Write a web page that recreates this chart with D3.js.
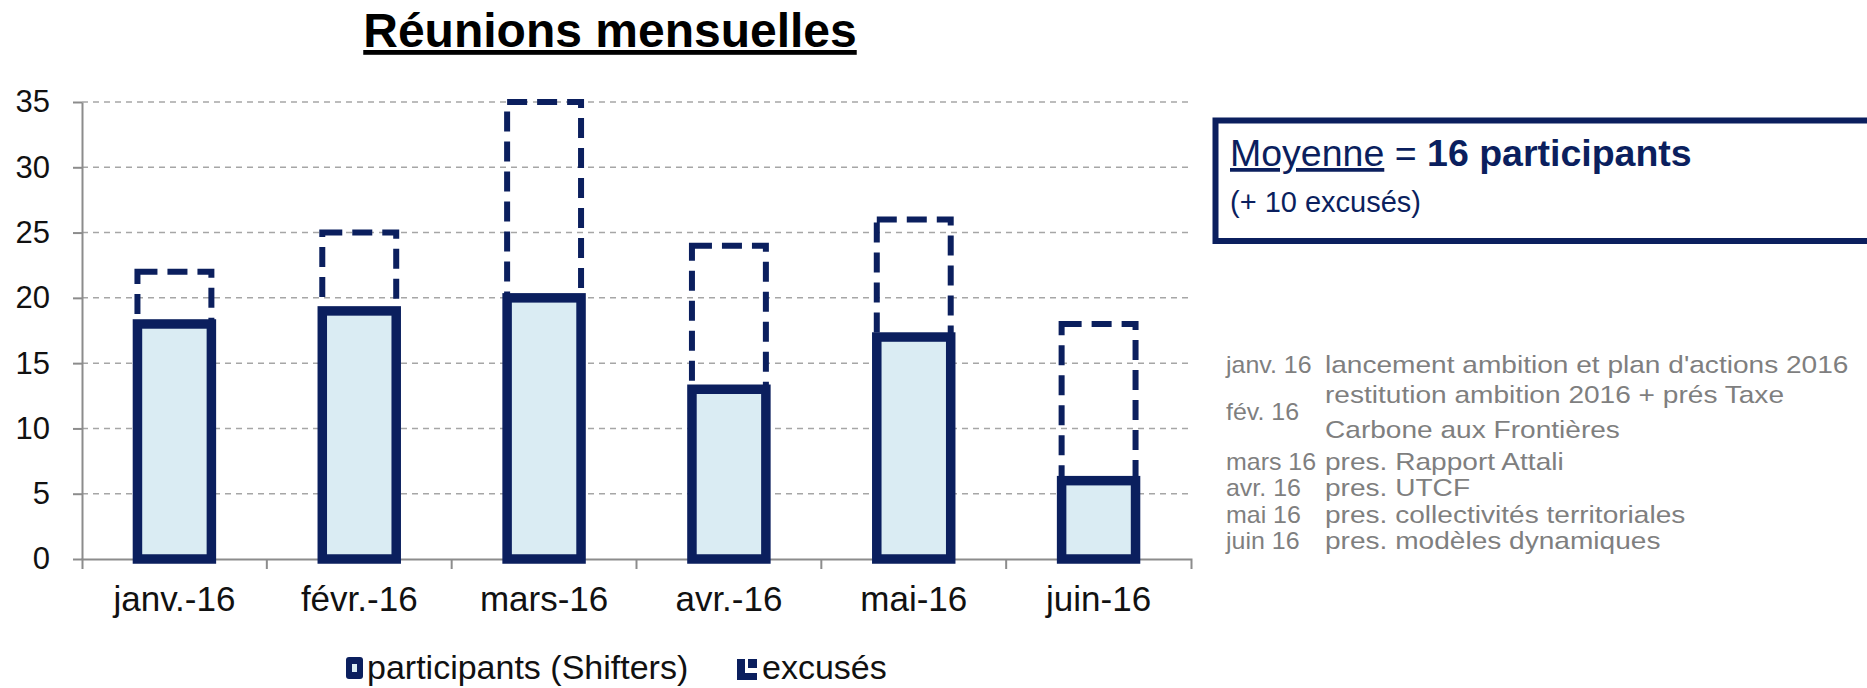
<!DOCTYPE html>
<html>
<head>
<meta charset="utf-8">
<script src="https://cdn.jsdelivr.net/npm/d3@7"></script>
<style>
  body { margin: 0; background: #fff; }
  text { font-family: 'Liberation Sans', Arial, sans-serif; }
</style>
</head>
<body>
<div id="graf"></div>
<script>
// I. Datos

mois = ['janv.-16', 'févr.-16', 'mars-16', 'avr.-16', 'mai-16', 'juin-16']
participants = [18, 19, 20, 13, 17, 6]
excuses = [4, 6, 15, 11, 9, 12]
yTicks = [0, 5, 10, 15, 20, 25, 30, 35]

notesMois = ['janv. 16', 'fév. 16', 'mars 16', 'avr. 16', 'mai 16', 'juin 16']
notesTexte = [
    ["lancement ambition et plan d'actions 2016"],
    ['restitution ambition 2016 + prés Taxe', 'Carbone aux Frontières'],
    ['pres. Rapport Attali'],
    ['pres. UTCF'],
    ['pres. collectivités territoriales'],
    ['pres. modèles dynamiques']
]

// II. Configuracion

navy = '#0b1f5e'
ancho_total = 1867
alto_total = 688

svg = d3.select('#graf').append('svg')
        .attr('width', ancho_total)
        .attr('height', alto_total)
        .style('background', '#fff')

x = d3.scaleBand()
        .domain(mois)
        .range([82, 1191])
        .paddingInner(0.6)
        .paddingOuter(0.3)

y = d3.scaleLinear()
        .domain([0, 35])
        .range([559, 102])

// titre
svg.append('text')
    .attr('x', 610)
    .attr('y', 47)
    .attr('text-anchor', 'middle')
    .style('font-size', '48px')
    .style('font-weight', 'bold')
    .style('text-decoration', 'underline')
    .text('Réunions mensuelles')

// III. Ejes y grilla

svg.append('g')
    .selectAll('line')
    .data(yTicks.filter(d => d > 0))
    .enter().append('line')
    .attr('x1', x.range()[0])
    .attr('x2', x.range()[1])
    .attr('y1', d => y(d))
    .attr('y2', d => y(d))
    .attr('stroke', '#a6a6a6')
    .attr('stroke-width', 1.5)
    .attr('stroke-dasharray', '6,5')

yAxisGroup = svg.append('g')
    .attr('transform', `translate(${x.range()[0]}, 0)`)
    .call(d3.axisLeft(y).tickValues(yTicks).tickSize(9).tickSizeOuter(0).tickPadding(23))
yAxisGroup.selectAll('path, line').attr('stroke', '#8c8c8c').attr('stroke-width', 2)
yAxisGroup.selectAll('text').style('font-size', '31px').attr('fill', '#111')

xAxisGroup = svg.append('g')
    .attr('transform', `translate(0, ${y(0)})`)
    .call(d3.axisBottom(x).tickSize(0).tickSizeOuter(10).tickPadding(27))
xAxisGroup.selectAll('path').attr('stroke', '#8c8c8c').attr('stroke-width', 2)
xAxisGroup.selectAll('text').style('font-size', '35px').attr('fill', '#111')

// marcas entre categorias
xAxisGroup.selectAll('.sep')
    .data(mois.slice(1))
    .enter().append('line')
    .attr('class', 'sep')
    .attr('x1', d => x(d) - x.step() * x.paddingInner() / 2)
    .attr('x2', d => x(d) - x.step() * x.paddingInner() / 2)
    .attr('y1', 0)
    .attr('y2', 10)
    .attr('stroke', '#8c8c8c')
    .attr('stroke-width', 2)

// IV. Barras

data = mois.map((m, i) => ({ mois: m, p: participants[i], e: excuses[i] }))

svg.append('g')
    .selectAll('rect')
    .data(data)
    .enter().append('rect')
    .attr('x', d => x(d.mois))
    .attr('width', x.bandwidth())
    .attr('y', d => y(d.p + d.e))
    .attr('height', d => y(d.p) - y(d.p + d.e))
    .attr('fill', 'none')
    .attr('stroke', navy)
    .attr('stroke-width', 6)
    .attr('stroke-dasharray', '20,10')

svg.append('g')
    .selectAll('rect')
    .data(data)
    .enter().append('rect')
    .attr('x', d => x(d.mois))
    .attr('width', x.bandwidth())
    .attr('y', d => y(d.p))
    .attr('height', d => y(0) - y(d.p))
    .attr('fill', '#daecf3')
    .attr('stroke', navy)
    .attr('stroke-width', 9.5)

// V. Leyenda

leg = svg.append('g')
leg.append('rect')
    .attr('x', 346).attr('y', 657).attr('width', 17).attr('height', 22).attr('rx', 3)
    .attr('fill', navy)
leg.append('rect')
    .attr('x', 352).attr('y', 664).attr('width', 5).attr('height', 8)
    .attr('fill', '#daecf3')
leg.append('text')
    .attr('x', 367).attr('y', 679)
    .style('font-size', '34px')
    .attr('fill', '#111')
    .text('participants (Shifters)')

leg.append('path')
    .attr('d', 'M737,659h8v14h12v7h-20z M748,659h9v9h-9z')
    .attr('fill', navy)
leg.append('text')
    .attr('x', 762).attr('y', 679)
    .style('font-size', '34px')
    .attr('fill', '#111')
    .text('excusés')

// VI. Cuadro moyenne

svg.append('rect')
    .attr('x', 1215.5).attr('y', 120.5)
    .attr('width', 700).attr('height', 120.5)
    .attr('fill', '#fff')
    .attr('stroke', navy)
    .attr('stroke-width', 6)

moy = svg.append('text')
    .attr('x', 1230).attr('y', 166)
    .style('font-size', '37.5px')
    .attr('fill', navy)
moy.append('tspan').style('text-decoration', 'underline').text('Moyenne')
moy.append('tspan').text(' = ')
moy.append('tspan').style('font-weight', 'bold').text('16 participants')

svg.append('text')
    .attr('x', 1230).attr('y', 212)
    .style('font-size', '29px')
    .attr('fill', navy)
    .text('(+ 10 excusés)')

// VII. Notas (texto algo ensanchado como en el original)

notas = svg.append('g').attr('fill', '#7f7f7f').style('font-size', '24px')
filaY = [373, 420, 470, 496, 523, 549]
notesMois.forEach((m, i) => {
    notas.append('text')
        .attr('transform', `translate(1226, ${filaY[i]}) scale(1.04, 1)`)
        .text(m)
    lignes = notesTexte[i]
    lignes.forEach((l, j) => {
        notas.append('text')
            .attr('transform', `translate(1325, ${filaY[i] + (j - (lignes.length - 1) / 2) * 35}) scale(1.17, 1)`)
            .text(l)
    })
})
</script>
</body>
</html>
